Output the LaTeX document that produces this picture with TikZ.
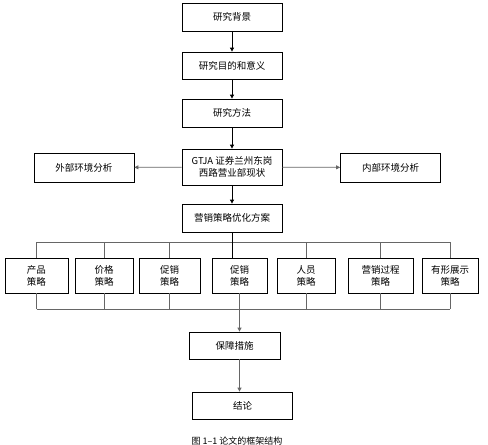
\documentclass[tikz,border=0pt]{standalone}
\usepackage{fontspec}
\newfontfamily\cjk{Noto Sans CJK SC}
\usetikzlibrary{arrows.meta,positioning,calc}
\tikzset{box/.style={draw,line width=0.8pt,minimum width=100pt,minimum height=28pt,inner sep=1pt,align=center,font=\cjk\fontsize{9.5}{12}\selectfont},
sbox/.style={box,minimum height=35pt,minimum width=58pt},
arr/.style={line width=0.8pt,-{Triangle[length=4pt,width=4pt]}},
bus/.style={line width=0.8pt,gray!80!black}}
\begin{document}
\begin{tikzpicture}[x=1pt,y=-1pt]
\useasboundingbox (0,0) rectangle (488,445);
\node[box] (bg) at (232,17) {研究背景};\node[box,minimum height=27pt] (md) at (232,65.5) {研究目的和意义};
\node[box] (ff) at (232,113) {研究方法};\node[box,minimum height=36pt] (xz) at (232,167) {GTJA 证券兰州东岗\\西路营业部现状};
\node[box,minimum height=29pt] (wb) at (84,167.5) {外部环境分析};\node[box,minimum height=29pt] (nb) at (390.5,167.5) {内部环境分析};
\node[box] (yh) at (232,218) {营销策略优化方案};
\foreach \n/\x/\w/\t in {s1/36.5/63/产品,s2/104/58/价格,s3/169.5/61/促销,s4/239.5/55/促销,s5/306/58/人员,s6/380.5/65/营销过程,s7/450/56/有形展示}
{\node[sbox,minimum width=\w pt] (\n) at (\x,275.5) {\t\\策略};}
\node[box,minimum width=91pt,minimum height=27pt] (bz) at (234.5,345.5) {保障措施};
\node[box,minimum height=27pt] (jl) at (242.5,405.5) {结论};
\node[font=\cjk\fontsize{9}{11}\selectfont] (cap) at (237,441) {图 1–1 论文的框架结构};
\draw[arr] (bg) -- (md);\draw[arr] (md) -- (ff);\draw[arr] (ff) -- (xz);\draw[arr] (xz) -- (yh);
\draw[arr,gray!80!black] (xz) -- (wb);\draw[arr,gray!80!black] (xz) -- (nb);
\coordinate (tb) at (0,242);\coordinate (lb) at (0,309);
\draw[bus] (s1.north |- tb) -- (s7.north |- tb);\draw[bus] (s1.south |- lb) -- (s7.south |- lb);
\foreach \n in {s1,s2,s3,s5,s6,s7}{\draw[bus] (\n.north |- tb) -- (\n.north);\draw[bus] (\n.south) -- (\n.south |- lb);}
\draw[line width=0.8pt] (yh.south) -- (yh.south |- s4.north);
\draw[arr,gray!80!black] (s4.south) -- (s4.south |- bz.north);
\draw[arr,gray!80!black] (bz.south -| s4.south) -- (jl.north -| s4.south);
\end{tikzpicture}
\end{document}
